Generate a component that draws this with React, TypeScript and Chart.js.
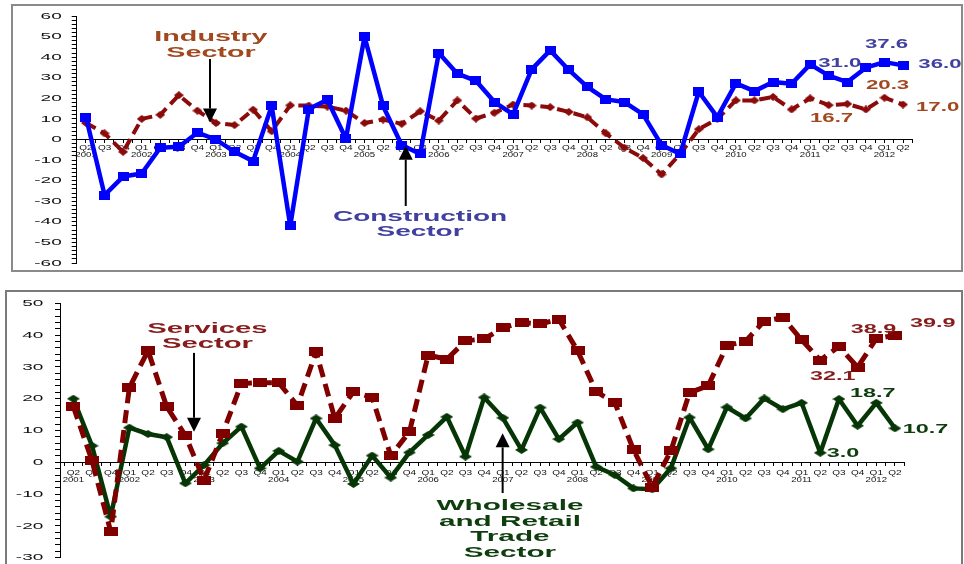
import React, { useEffect, useRef } from 'react';
import { Chart, registerables } from 'chart.js';

Chart.register(...registerables);

// Quarter and year labels, Q2 2001 .. Q2 2012
const quarterLabels = [
  'Q2', 'Q3', 'Q4',
  'Q1', 'Q2', 'Q3', 'Q4',
  'Q1', 'Q2', 'Q3', 'Q4',
  'Q1', 'Q2', 'Q3', 'Q4',
  'Q1', 'Q2', 'Q3', 'Q4',
  'Q1', 'Q2', 'Q3', 'Q4',
  'Q1', 'Q2', 'Q3', 'Q4',
  'Q1', 'Q2', 'Q3', 'Q4',
  'Q1', 'Q2', 'Q3', 'Q4',
  'Q1', 'Q2', 'Q3', 'Q4',
  'Q1', 'Q2', 'Q3', 'Q4',
  'Q1', 'Q2',
];
const yearLabels = [
  '2001', '', '',
  '2002', '', '', '',
  '2003', '', '', '',
  '2004', '', '', '',
  '2005', '', '', '',
  '2006', '', '', '',
  '2007', '', '', '',
  '2008', '', '', '',
  '2009', '', '', '',
  '2010', '', '', '',
  '2011', '', '', '',
  '2012', '',
];

// Growth rates (%), upper panel
const construction = [
  10.9, -27, -18, -16.5, -4, -3.5, 3.3, 0, -6, -10.5,
  16.3, -42, 14.8, 19.3, 0.4, 50, 16.3, -2.7, -7, 42,
  32, 28.5, 18.2, 12.2, 34.1, 43.3, 33.8, 25.6, 19.5, 18.2,
  12.2, -2.7, -7, 23.2, 10.9, 27.3, 23.5, 27.9, 27.1, 36.5,
  31.0, 27.9, 34.9, 37.6, 36.0,
];
const industry = [
  8, 3, -6, 10, 12, 21.5, 14, 8, 7, 14.5,
  4, 16.6, 16.5, 16, 14, 8, 9.7, 7.6, 13.7, 9.2,
  19, 10.2, 13, 17, 16.5, 15.7, 13.4, 10.8, 3, -4,
  -9, -17, -7, 5, 10, 19, 19, 20.7, 14.6, 20,
  16.7, 17.3, 14.6, 20.3, 17.0,
];

// Growth rates (%), lower panel
const services = [
  17.5, 0.5, -21.8, 23.5, 35.1, 17.5, 8.4, -5.6, 9.1, 24.8,
  25, 25, 17.8, 34.8, 13.8, 22.2, 20.4, 2.1, 9.6, 33.7,
  32.4, 38.2, 38.8, 42.3, 44, 43.5, 45, 35.1, 22.2, 18.7,
  3.9, -7.8, 3.6, 21.9, 24.1, 36.7, 38.1, 44.4, 45.5, 38.5,
  32.1, 36.4, 29.9, 38.9, 39.9,
];
const wholesale = [
  20, 5.2, -17.1, 10.9, 8.9, 7.9, -6.6, -0.9, 6, 11.2,
  -1.9, 3.6, 0.2, 13.8, 5.4, -6.8, 2.1, -4.8, 3.1, 8.6,
  14.3, 1.8, 20.4, 14, 3.9, 17.2, 7.3, 12.5, -1.4, -4,
  -8.2, -8.5, -1.9, 14.1, 4.1, 17.3, 13.8, 20.1, 16.7, 18.7,
  3.0, 19.9, 11.5, 18.7, 10.7,
];

const topAxisLabels = [60, 50, 40, 30, 20, 10, 0, -10, -20, -30, -40, -50, -60];
const bottomAxisLabels = [50, 40, 30, 20, 10, 0, -10, -20, -30];

const FONT = '"Liberation Sans", Arial, Helvetica, sans-serif';

const BLUE = '#0000FF';
const INDUSTRY_RED = '#8B0A0A';
const SERVICES_RED = '#800000';
const GREEN = '#063606';
const BLUE_TEXT = '#4040A0';
const BROWN_TEXT = '#A1481E';
const RED_TEXT = '#861C1C';
const GREEN_TEXT = '#0E3E0E';
const AXIS_TEXT = '#111';

function wideText(
  ctx: CanvasRenderingContext2D,
  text: string,
  x: number,
  y: number,
  size: number,
  color: string,
  sx: number,
  bold = true,
  align: CanvasTextAlign = 'left',
  baseline: CanvasTextBaseline = 'alphabetic'
) {
  ctx.save();
  ctx.font = `${bold ? 'bold ' : ''}${size}px ${FONT}`;
  ctx.fillStyle = color;
  ctx.textAlign = align;
  ctx.textBaseline = baseline;
  ctx.translate(x, y);
  ctx.scale(sx, 1);
  ctx.fillText(text, 0, 0);
  ctx.restore();
}

function drawArrow(ctx: CanvasRenderingContext2D, x: number, yTail: number, yTip: number) {
  const dir = Math.sign(yTip - yTail);
  const head = 14;
  const half = 7;
  ctx.save();
  ctx.strokeStyle = '#000';
  ctx.fillStyle = '#000';
  ctx.lineWidth = 2;
  ctx.beginPath();
  ctx.moveTo(x, yTail);
  ctx.lineTo(x, yTip - dir * head);
  ctx.stroke();
  ctx.beginPath();
  ctx.moveTo(x, yTip);
  ctx.lineTo(x - half, yTip - dir * head);
  ctx.lineTo(x + half, yTip - dir * head);
  ctx.closePath();
  ctx.fill();
  ctx.restore();
}

function marker(shape: 'rect' | 'diamond', w: number, h: number, color: string) {
  const c = document.createElement('canvas');
  c.width = w;
  c.height = h;
  const g = c.getContext('2d')!;
  g.fillStyle = color;
  if (shape === 'rect') {
    g.fillRect(0, 0, w, h);
  } else {
    g.beginPath();
    g.moveTo(w / 2, 0);
    g.lineTo(w, h / 2);
    g.lineTo(w / 2, h);
    g.lineTo(0, h / 2);
    g.closePath();
    g.fill();
  }
  return c;
}

const points = (values: number[]) => values.map((v, i) => ({ x: i, y: v }));

type ValueLabel = { series: number[]; index: number; dx: number; dy: number; color: string };

type PanelSpec = {
  yMin: number;
  yMax: number;
  xMin: number;
  xMax: number;
  padding: { left: number; top: number; right: number; bottom: number };
  datasets: any[];
  axisLabels: number[];
  axisLabelGap: number;
  quarterDy: number;
  yearDy: number;
  valueLabels: ValueLabel[];
  valueScale: number;
  annotate: (ctx: CanvasRenderingContext2D, px: (v: number) => number, py: (v: number) => number) => void;
};

function makePanel(canvas: HTMLCanvasElement, spec: PanelSpec) {
  const minorTicks: number[] = [];
  for (let v = spec.yMin; v <= spec.yMax; v += 2) minorTicks.push(v);
  const catTicks: number[] = [];
  for (let v = -0.5; v <= quarterLabels.length - 0.5; v += 0.5) catTicks.push(v);

  const textPlugin = {
    id: 'panelText',
    beforeDatasetsDraw(chart: any) {
      const ctx = chart.ctx as CanvasRenderingContext2D;
      const xs = chart.scales.x;
      const ys = chart.scales.y;
      const axisX = xs.getPixelForValue(spec.xMin);
      spec.axisLabels.forEach((v) => {
        wideText(ctx, String(v), axisX - spec.axisLabelGap, ys.getPixelForValue(v), 9.5, AXIS_TEXT, 2.0, false, 'right', 'middle');
      });
      const zeroY = ys.getPixelForValue(0);
      quarterLabels.forEach((q, i) => {
        const x = xs.getPixelForValue(i);
        wideText(ctx, q, x, zeroY + spec.quarterDy, 8, AXIS_TEXT, 1.25, false, 'center', 'middle');
        if (yearLabels[i]) {
          wideText(ctx, yearLabels[i], x, zeroY + spec.yearDy, 8, AXIS_TEXT, 1.2, false, 'center', 'middle');
        }
      });
    },
    afterDraw(chart: any) {
      const ctx = chart.ctx as CanvasRenderingContext2D;
      const xs = chart.scales.x;
      const ys = chart.scales.y;
      const px = (v: number) => xs.getPixelForValue(v);
      const py = (v: number) => ys.getPixelForValue(v);
      spec.valueLabels.forEach((l) => {
        const v = l.series[l.index];
        wideText(ctx, v.toFixed(1), px(l.index) + l.dx, py(v) + l.dy, 12, l.color, spec.valueScale, true, 'left');
      });
      spec.annotate(ctx, px, py);
    },
  };

  return new Chart(canvas, {
    type: 'line',
    data: { datasets: spec.datasets },
    options: {
      animation: false,
      responsive: false,
      devicePixelRatio: 1,
      layout: { padding: spec.padding },
      plugins: { legend: { display: false }, tooltip: { enabled: false } },
      scales: {
        x: {
          type: 'linear',
          min: spec.xMin,
          max: spec.xMax,
          position: { y: 0 } as any,
          afterBuildTicks: (s: any) => {
            s.ticks = catTicks.map((value) => ({ value }));
          },
          ticks: { display: false },
          grid: { drawOnChartArea: false, drawTicks: true, tickLength: 3, color: '#000', lineWidth: 1 },
          border: { display: true, color: '#000', width: 1 },
        },
        y: {
          type: 'linear',
          min: spec.yMin,
          max: spec.yMax,
          afterBuildTicks: (s: any) => {
            s.ticks = minorTicks.map((value) => ({ value }));
          },
          afterFit: (s: any) => {
            s.width = 6;
          },
          ticks: { display: false },
          grid: { drawOnChartArea: false, drawTicks: true, tickLength: 5, color: '#000', lineWidth: 1 },
          border: { display: true, color: '#000', width: 1 },
        },
      },
    },
    plugins: [textPlugin],
  } as any);
}

export default function App() {
  const topRef = useRef<HTMLCanvasElement>(null);
  const bottomRef = useRef<HTMLCanvasElement>(null);

  useEffect(() => {
    const top = makePanel(topRef.current!, {
      yMin: -60,
      yMax: 60,
      xMin: -0.5,
      xMax: 44.5,
      padding: { left: 70.7, top: 16, right: 51.7, bottom: 301 },
      axisLabels: topAxisLabels,
      axisLabelGap: 15,
      quarterDy: 8.5,
      yearDy: 15.5,
      valueScale: 1.85,
      datasets: [
        {
          label: 'Construction Sector',
          data: points(construction),
          borderColor: BLUE,
          backgroundColor: BLUE,
          borderWidth: 4.5,
          borderJoinStyle: 'bevel',
          pointStyle: marker('rect', 11, 9, BLUE),
          pointRadius: 5,
          pointBorderWidth: 0,
          tension: 0,
          clip: false,
        },
        {
          label: 'Industry Sector',
          data: points(industry),
          borderColor: INDUSTRY_RED,
          backgroundColor: INDUSTRY_RED,
          borderWidth: 4,
          borderDash: [11, 6],
          borderJoinStyle: 'bevel',
          pointStyle: marker('diamond', 10, 8, INDUSTRY_RED),
          pointRadius: 4,
          pointBorderWidth: 0,
          tension: 0,
          clip: false,
        },
      ],
      valueLabels: [
        { series: construction, index: 40, dx: -10.5, dy: -9, color: BLUE_TEXT },
        { series: construction, index: 43, dx: -19.5, dy: -13.8, color: BLUE_TEXT },
        { series: construction, index: 44, dx: 15.3, dy: 2.9, color: BLUE_TEXT },
        { series: industry, index: 43, dx: -18.5, dy: -8.4, color: BROWN_TEXT },
        { series: industry, index: 40, dx: -18.8, dy: 16.6, color: BROWN_TEXT },
        { series: industry, index: 44, dx: 13, dy: 6.2, color: BROWN_TEXT },
      ],
      annotate: (ctx, px, py) => {
        wideText(ctx, 'Industry', px(6.73), py(47.7), 14, BROWN_TEXT, 2.05, true, 'center');
        wideText(ctx, 'Sector', px(6.73), py(40.3), 14, BROWN_TEXT, 2.05, true, 'center');
        drawArrow(ctx, px(6.68), py(39.1), py(8.2));
        wideText(ctx, 'Construction', px(17.99), py(-39.8), 14, BLUE_TEXT, 2.0, true, 'center');
        wideText(ctx, 'Sector', px(17.99), py(-47.1), 14, BLUE_TEXT, 2.0, true, 'center');
        drawArrow(ctx, px(17.22), py(-32.3), py(-3.0));
      },
    });

    const bottom = makePanel(bottomRef.current!, {
      yMin: -30,
      yMax: 50,
      xMin: -0.715,
      xMax: 44.5,
      padding: { left: 54, top: 303.3, right: 59.7, bottom: 6.3 },
      axisLabels: bottomAxisLabels,
      axisLabelGap: 16.7,
      quarterDy: 10,
      yearDy: 17.3,
      valueScale: 1.95,
      datasets: [
        {
          label: 'Services Sector',
          data: points(services),
          borderColor: SERVICES_RED,
          backgroundColor: SERVICES_RED,
          borderWidth: 5,
          borderDash: [13, 7],
          borderJoinStyle: 'bevel',
          pointStyle: marker('rect', 14, 9, SERVICES_RED),
          pointRadius: 5,
          pointBorderWidth: 0,
          tension: 0,
          clip: false,
        },
        {
          label: 'Wholesale and Retail Trade Sector',
          data: points(wholesale),
          borderColor: GREEN,
          backgroundColor: GREEN,
          borderWidth: 4.5,
          borderJoinStyle: 'bevel',
          pointStyle: marker('diamond', 13, 8, GREEN),
          pointRadius: 5,
          pointBorderWidth: 0,
          tension: 0,
          clip: false,
        },
      ],
      valueLabels: [
        { series: services, index: 44, dx: 15, dy: -8.7, color: RED_TEXT },
        { series: services, index: 43, dx: -25.6, dy: -5.3, color: RED_TEXT },
        { series: services, index: 40, dx: -10.3, dy: 19.8, color: RED_TEXT },
        { series: wholesale, index: 43, dx: -26.3, dy: -5.5, color: GREEN_TEXT },
        { series: wholesale, index: 40, dx: 6.4, dy: 3.9, color: GREEN_TEXT },
        { series: wholesale, index: 44, dx: 7.7, dy: 5, color: GREEN_TEXT },
      ],
      annotate: (ctx, px, py) => {
        wideText(ctx, 'Services', px(7.18), py(40.75), 15, RED_TEXT, 1.95, true, 'center');
        wideText(ctx, 'Sector', px(7.18), py(35.85), 15, RED_TEXT, 1.95, true, 'center');
        drawArrow(ctx, px(6.46), py(34.4), py(9.6));
        const cx = px(23.38);
        wideText(ctx, 'Wholesale', cx, py(-15), 14.5, GREEN_TEXT, 2.05, true, 'center');
        wideText(ctx, 'and Retail', cx, py(-19.9), 14.5, GREEN_TEXT, 2.05, true, 'center');
        wideText(ctx, 'Trade', cx, py(-24.9), 14.5, GREEN_TEXT, 2.05, true, 'center');
        wideText(ctx, 'Sector', cx, py(-29.8), 14.5, GREEN_TEXT, 2.05, true, 'center');
        drawArrow(ctx, px(22.99), py(-9.65), py(9.1));
      },
    });

    return () => {
      top.destroy();
      bottom.destroy();
    };
  }, []);

  return (
    <div
      style={{
        position: 'fixed',
        left: 0,
        top: 0,
        width: 964,
        height: 564,
        background: '#fff',
        overflow: 'hidden',
      }}
    >
      <div
        style={{
          position: 'absolute',
          left: 11,
          top: 4,
          width: 952,
          height: 268,
          boxSizing: 'border-box',
          border: '2px solid #8a8a8a',
        }}
      />
      <div
        style={{
          position: 'absolute',
          left: 5,
          top: 290,
          width: 958,
          height: 300,
          boxSizing: 'border-box',
          border: '2px solid #7a7a7a',
        }}
      />
      <canvas ref={topRef} width={964} height={564} style={{ position: 'absolute', left: 0, top: 0 }} />
      <canvas ref={bottomRef} width={964} height={564} style={{ position: 'absolute', left: 0, top: 0 }} />
    </div>
  );
}
